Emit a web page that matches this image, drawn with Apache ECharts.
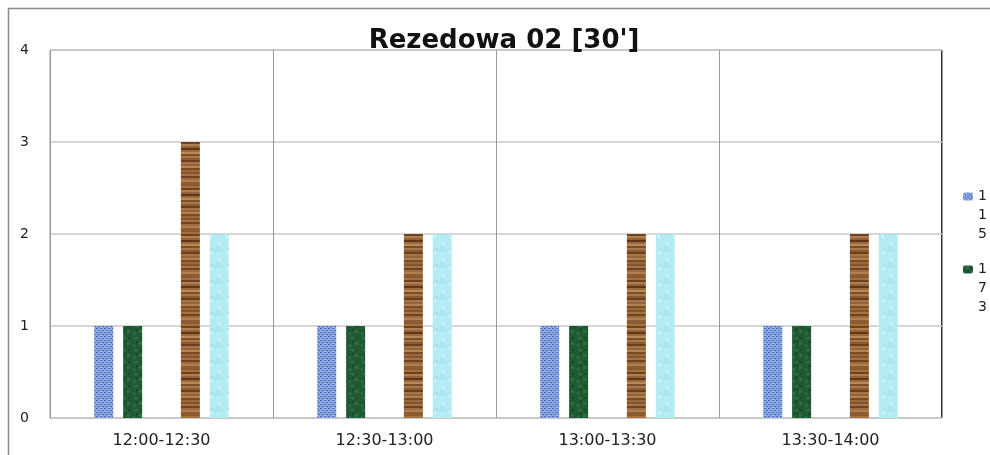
<!DOCTYPE html>
<html>
<head>
<meta charset="utf-8">
<script src="https://cdn.jsdelivr.net/npm/echarts@6/dist/echarts.min.js"></script>
<style>
  html, body { margin: 0; padding: 0; background: #fff; }
  #main { width: 990px; height: 455px; }
</style>
</head>
<body>
<div id="main"></div>
<script>
// dane z wykresu
var categories = ["12:00-12:30", "12:30-13:00", "13:00-13:30", "13:30-14:00"];
var seriesNames = ["115", "173", "s3", "s4", "s5"];
var values115 = [1, 1, 1, 1];
var values173 = [1, 1, 1, 1];
var values3 = [0, 0, 0, 0];
var values4 = [3, 2, 2, 2];
var values5 = [2, 2, 2, 2];

// tekstury jak w Excelu (deterministyczne wzory)
function makePattern(kind) {
  var c = document.createElement("canvas");
  var ctx = c.getContext("2d");
  var i, j;
  if (kind === "blue") {
    c.width = 8; c.height = 8;
    ctx.fillStyle = "#8aa6e0"; ctx.fillRect(0, 0, 8, 8);
    ctx.fillStyle = "#4a6cbf";
    for (i = 0; i < 8; i += 2) for (j = (i % 4); j < 8; j += 4) ctx.fillRect(j, i, 2, 1);
    ctx.fillStyle = "#c3d3f3";
    ctx.fillRect(1, 3, 1, 1); ctx.fillRect(5, 7, 1, 1); ctx.fillRect(3, 1, 1, 1);
  } else if (kind === "green") {
    c.width = 12; c.height = 12;
    ctx.fillStyle = "#1f5a32"; ctx.fillRect(0, 0, 12, 12);
    ctx.fillStyle = "#2d7043";
    ctx.fillRect(2, 1, 4, 2); ctx.fillRect(7, 6, 3, 3); ctx.fillRect(1, 8, 2, 3);
    ctx.fillStyle = "#174826";
    ctx.fillRect(8, 1, 2, 2); ctx.fillRect(4, 5, 2, 2);
  } else if (kind === "wood") {
    c.width = 4; c.height = 46;
    var shades = ["#8c5a2f", "#a4703f", "#6e4220", "#b0804f", "#93613a", "#5e3719", "#9c693c",
                  "#b88a58", "#7d4f29", "#a9774a", "#8a5a31", "#6a3f1e", "#a7744a", "#94653a",
                  "#b3834f", "#7a4b26", "#99683d", "#85542d", "#a57345", "#6f4422", "#9e6c40", "#b0814f", "#8d5c33"];
    for (i = 0; i < 46; i += 2) {
      ctx.fillStyle = shades[(i / 2) % shades.length];
      ctx.fillRect(0, i, 4, 2);
    }
  } else {
    c.width = 16; c.height = 16;
    ctx.fillStyle = "#b5ecf3"; ctx.fillRect(0, 0, 16, 16);
    ctx.strokeStyle = "#9ad9e4"; ctx.lineWidth = 1;
    ctx.beginPath(); ctx.arc(6, 6, 4, 0.3, 2.6); ctx.stroke();
    ctx.beginPath(); ctx.arc(13, 13, 3, 3.5, 5.8); ctx.stroke();
    ctx.fillStyle = "#d8f7fb"; ctx.fillRect(11, 3, 2, 2); ctx.fillRect(2, 12, 2, 2);
  }
  return { image: c, repeat: "repeat" };
}

var chart = echarts.init(document.getElementById("main"));

var barCommon = {
  type: "bar",
  barWidth: 19,
  barGap: "52%"
};

// legenda: ikona przy pierwszym znaku, znaki pionowo
// (dwie puste linie na gorze, zeby ikona stala przy pierwszej cyfrze)
function legendFor(name, top) {
  return {
    data: [name],
    orient: "vertical",
    left: 958,
    top: top,
    itemWidth: 10,
    itemHeight: 8,
    formatter: function (n) {
      return "{e|}\n{e|}\n" + n.split("").map(function (ch) { return "{a|" + ch + "}"; }).join("\n");
    },
    textStyle: {
      fontFamily: "DejaVu Sans",
      fontSize: 14,
      color: "#222",
      lineHeight: 19,
      rich: {
        a: { fontFamily: "DejaVu Sans", fontSize: 14, color: "#222", lineHeight: 19 },
        e: { fontSize: 14, lineHeight: 19 }
      }
    }
  };
}

chart.setOption({
  animation: false,
  title: {
    text: "Rezedowa 02 [30']",
    left: 499,
    textAlign: "center",
    top: 23,
    textStyle: {
      fontFamily: "DejaVu Sans",
      fontSize: 26,
      fontWeight: "bold",
      color: "#111"
    }
  },
  legend: [legendFor(seriesNames[0], 144), legendFor(seriesNames[1], 217)],
  graphic: [
    {
      type: "rect",
      silent: true,
      shape: { x: 8.5, y: 8.5, width: 1000, height: 500 },
      style: { fill: "none", stroke: "#8c8c8c", lineWidth: 1.5 }
    },
    {
      type: "line",
      silent: true,
      shape: { x1: 942, y1: 50, x2: 942, y2: 418 },
      style: { stroke: "#333", lineWidth: 2 }
    }
  ],
  grid: {
    left: 50,
    right: 48,
    top: 50,
    bottom: 37,
    show: true,
    borderColor: "#999",
    borderWidth: 1
  },
  xAxis: {
    type: "category",
    data: categories,
    axisTick: { show: false },
    axisLine: { lineStyle: { color: "#c8c8c8" } },
    axisLabel: {
      fontFamily: "DejaVu Sans",
      fontSize: 16,
      color: "#222",
      margin: 15
    },
    splitLine: { show: true, lineStyle: { color: "#999", width: 1 } }
  },
  yAxis: {
    type: "value",
    min: 0,
    max: 4,
    interval: 1,
    axisLine: { show: false },
    axisTick: { show: false },
    axisLabel: {
      fontFamily: "DejaVu Sans",
      fontSize: 14,
      color: "#222",
      margin: 21
    },
    splitLine: { lineStyle: { color: "#c8c8c8", width: 1.5 } }
  },
  series: [
    Object.assign({ name: seriesNames[0], data: values115, itemStyle: { color: makePattern("blue") } }, barCommon),
    Object.assign({ name: seriesNames[1], data: values173, itemStyle: { color: makePattern("green") } }, barCommon),
    Object.assign({ name: seriesNames[2], data: values3, itemStyle: { color: "#999" } }, barCommon),
    Object.assign({ name: seriesNames[3], data: values4, itemStyle: { color: makePattern("wood") } }, barCommon),
    Object.assign({ name: seriesNames[4], data: values5, itemStyle: { color: makePattern("cyan") } }, barCommon)
  ]
});
</script>
</body>
</html>
